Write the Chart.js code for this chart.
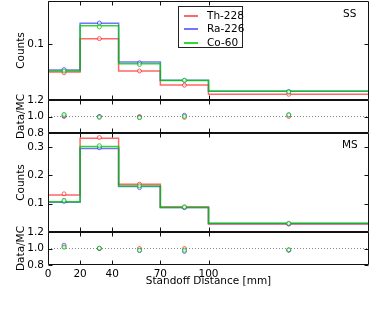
<!DOCTYPE html>
<html>
<head>
<meta charset="utf-8">
<script src="https://cdn.jsdelivr.net/npm/chart.js@4.4.1/dist/chart.umd.min.js"></script>
<style>
  body { margin: 0; background: #fff; width: 374px; height: 312px; overflow: hidden; position: relative; font-family: 'DejaVu Sans', sans-serif; }
  .box { position: absolute; left: 0; width: 374px; }
  #legend { position: absolute; left: 178px; top: 6px; width: 65px; height: 42px; border: 1px solid #222; background: #fff; z-index: 5; box-sizing: border-box; }
  .item { position: absolute; left: 0; height: 13px; width: 63px; font-size: 10.5px; line-height: 13px; color: #000; white-space: nowrap; }
  .item .swatch { position: absolute; left: 5px; top: 6px; width: 14px; height: 2px; }
  .item .txt { position: absolute; left: 28px; top: 0; }
  .tag { position: absolute; font-size: 10.5px; color: #000; z-index: 5; white-space: nowrap; }
</style>
</head>
<body>
<div class="box" style="top:-9px; height:119px"><canvas id="ss"></canvas></div>
<div class="box" style="top:90px; height:53px"><canvas id="ssRatio"></canvas></div>
<div class="box" style="top:123px; height:119px"><canvas id="ms"></canvas></div>
<div class="box" style="top:222px; height:90px"><canvas id="msRatio"></canvas></div>
<div id="legend"></div>
<div class="tag" style="left:343px; top:7px">SS</div>
<div class="tag" style="left:342px; top:138px">MS</div>
<script>
// sources and binning
const names = ['Th-228', 'Ra-226', 'Co-60'];
const colors = ['rgba(255,0,0,0.6)', 'rgba(0,0,255,0.55)', 'rgba(0,205,0,0.8)'];
const binEdges = [0, 20, 44, 70, 100, 200];
const binCenters = [10, 32, 57, 85, 150];
const xTicks = [0, 20, 40, 70, 100];

// single-site: MC histogram (lines) and data (points)
const ssMcTh = [0.050, 0.110, 0.052, 0.027, 0.0103];
const ssMcRa = [0.054, 0.1375, 0.068, 0.0355, 0.0157];
const ssMcCo = [0.052, 0.133, 0.065, 0.0348, 0.0157];
const ssDataTh = [0.049, 0.110, 0.052, 0.0265, 0.0103];
const ssDataRa = [0.0546, 0.138, 0.0667, 0.035, 0.0153];
const ssDataCo = [0.052, 0.131, 0.0636, 0.0355, 0.0144];
const ssRatioTh = [1.0, 0.995, 1.0, 0.99, 1.0];
const ssRatioRa = [1.01, 1.0, 0.99, 1.015, 1.02];
const ssRatioCo = [1.025, 0.99, 0.985, 1.0, 1.02];

// multi-site
const msMcTh = [0.131, 0.331, 0.169, 0.088, 0.028];
const msMcRa = [0.105, 0.295, 0.161, 0.087, 0.030];
const msMcCo = [0.107, 0.302, 0.163, 0.087, 0.031];
const msDataTh = [0.135, 0.334, 0.169, 0.088, 0.028];
const msDataRa = [0.108, 0.298, 0.157, 0.086, 0.029];
const msDataCo = [0.112, 0.305, 0.163, 0.089, 0.031];
const msRatioTh = [1.02, 1.0, 1.0, 1.0, 0.98];
const msRatioRa = [1.04, 1.0, 0.975, 0.965, 0.98];
const msRatioCo = [1.015, 1.005, 0.98, 0.98, 0.985];

const ssTicks = [0.1];
const msTicks = [0.1, 0.2, 0.3];
const ratioTicks = [0.8, 1.0, 1.2];

Chart.defaults.font.family = "'DejaVu Sans', sans-serif";
Chart.defaults.font.size = 10.5;
Chart.defaults.color = '#000';

// frame + inward ticks on all four sides
const framePlugin = {
  id: 'frame',
  afterDatasetsDraw(chart, args, opts) {
    const { ctx, chartArea: a, scales } = chart;
    ctx.save();
    ctx.strokeStyle = '#111';
    ctx.lineWidth = 1;
    ctx.beginPath();
    const l = Math.round(a.left) + 0.5, r = Math.round(a.right) - 0.5;
    const t = Math.round(a.top) + 0.5, b = Math.round(a.bottom) - 0.5;
    ctx.rect(l, t, r - l, b - t);
    opts.xTicks.forEach(v => {
      const px = Math.round(scales.x.getPixelForValue(v)) + 0.5;
      ctx.moveTo(px, t); ctx.lineTo(px, t + 4);
      ctx.moveTo(px, b); ctx.lineTo(px, b - 4);
    });
    opts.yTicks.forEach(v => {
      const py = Math.round(scales.y.getPixelForValue(v)) + 0.5;
      ctx.moveTo(l, py); ctx.lineTo(l + 4, py);
      ctx.moveTo(r, py); ctx.lineTo(r - 4, py);
    });
    ctx.stroke();
    ctx.restore();
  }
};

function stepPoints(values) {
  return binEdges.map((e, i) => ({ x: e, y: values[Math.min(i, values.length - 1)] }));
}

function pointSet(values, i) {
  return {
    data: binCenters.map((x, k) => ({ x: x, y: values[k] })),
    showLine: false,
    pointRadius: 2,
    pointBorderWidth: 1,
    pointBorderColor: colors[i],
    pointBackgroundColor: 'rgba(255,255,255,0.6)'
  };
}

function stepSet(values, i) {
  return {
    data: stepPoints(values),
    stepped: true,
    borderColor: colors[i],
    borderWidth: 1.5,
    pointRadius: 0,
    fill: false
  };
}

function histDatasets(mc, data) {
  // first dataset is drawn on top in Chart.js
  return [
    pointSet(data[2], 2), pointSet(data[1], 1), pointSet(data[0], 0),
    stepSet(mc[2], 2), stepSet(mc[1], 1), stepSet(mc[0], 0)
  ];
}

function ratioDatasets(ratios) {
  return [
    pointSet(ratios[2], 2), pointSet(ratios[1], 1), pointSet(ratios[0], 0),
    {
      data: [{ x: binEdges[0], y: 1 }, { x: binEdges[binEdges.length - 1], y: 1 }],
      borderColor: '#888', borderWidth: 1, borderDash: [1, 2], pointRadius: 0, fill: false
    }
  ];
}

function makePanel(id, yMin, yMax, yTicks, yTitle, datasets, pad, showX) {
  return new Chart(document.getElementById(id), {
    type: 'line',
    data: { datasets: datasets },
    options: {
      animation: false,
      responsive: true,
      maintainAspectRatio: false,
      layout: { padding: { top: pad[0], bottom: pad[1], left: 0, right: 1 } },
      plugins: {
        legend: { display: false },
        tooltip: { enabled: false },
        frame: { xTicks: xTicks, yTicks: yTicks }
      },
      scales: {
        x: {
          type: 'linear', min: 0, max: 200, display: showX,
          afterBuildTicks: s => { s.ticks = xTicks.map(v => ({ value: v })); },
          afterFit: s => {
            s.height = showX ? 47 : 0;
            s.paddingLeft = 0; s.paddingRight = 0;
          },
          grid: { display: false, drawTicks: false },
          border: { display: false },
          ticks: { padding: 3, maxRotation: 0, autoSkip: false, callback: v => String(v) },
          title: { display: showX, text: 'Standoff Distance [mm]', padding: { top: 0, bottom: 24 } }
        },
        y: {
          type: 'linear', min: yMin, max: yMax,
          afterBuildTicks: s => { s.ticks = yTicks.map(v => ({ value: v })); },
          afterFit: s => {
            s.width = 48;
            s.paddingTop = 0; s.paddingBottom = 0;
          },
          grid: { display: false, drawTicks: false },
          border: { display: false },
          ticks: { padding: 4, callback: v => v.toFixed(1) },
          title: { display: true, text: yTitle, padding: { top: 15, bottom: 0 } }
        }
      }
    },
    plugins: [framePlugin]
  });
}

makePanel('ss', 0, 0.1775, ssTicks, 'Counts',
  histDatasets([ssMcTh, ssMcRa, ssMcCo], [ssDataTh, ssDataRa, ssDataCo]), [10, 10], false);
makePanel('ssRatio', 0.8, 1.2, ratioTicks, 'Data/MC',
  ratioDatasets([ssRatioTh, ssRatioRa, ssRatioCo]), [10, 10], false);
makePanel('ms', 0, 0.35, msTicks, 'Counts',
  histDatasets([msMcTh, msMcRa, msMcCo], [msDataTh, msDataRa, msDataCo]), [10, 10], false);
makePanel('msRatio', 0.8, 1.2, ratioTicks, 'Data/MC',
  ratioDatasets([msRatioTh, msRatioRa, msRatioCo]), [10, 0], true);

// legend box
const legend = document.getElementById('legend');
names.forEach((name, i) => {
  const row = document.createElement('div');
  row.className = 'item';
  row.style.top = (2 + i * 13.3) + 'px';
  row.innerHTML = '<div class="swatch" style="background:' + colors[i] + '"></div><div class="txt">' + name + '</div>';
  legend.appendChild(row);
});
</script>
</body>
</html>
